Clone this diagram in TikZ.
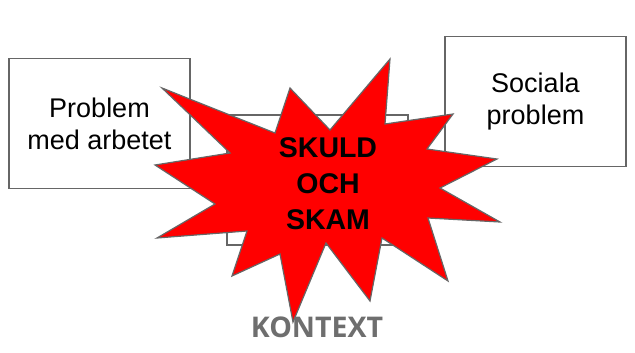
\documentclass[tikz,border=0pt]{standalone}
\usepackage{fontspec}
\setmainfont{Liberation Sans}
\newfontfamily\ctxfont{Open Sans}
\usepackage{tikz}
\usetikzlibrary{positioning}

\definecolor{edgegray}{HTML}{666666}
\definecolor{ctxgray}{HTML}{6E6E6E}

\begin{document}
\begin{tikzpicture}[x=1pt,y=-1pt,
  issue/.style={draw=edgegray,line width=1.2pt,fill=white,minimum width=181pt,
    minimum height=130pt,align=center,font=\fontsize{27}{32}\selectfont},
  burst/.style={draw=edgegray,line width=1.2pt,fill=red,line join=miter}]
 \useasboundingbox (0,0) rectangle (635,353);
 % the three problem boxes
 \node[issue] (work) at (99.5,123.5) {Problem\\med arbetet};
 \node[issue] (social) at (535.5,101.5) {Sociala\\problem};
 \node[issue] (hidden) at (317.5,180) {};
 % the burst on top
 \path[burst] (162,88) -- (275,133) -- (290,88) -- (330,130) -- (390,59)
  -- (385,124) -- (453,114) -- (427,149) -- (497,159) -- (440,188)
  -- (500,222) -- (428,218) -- (448,281) -- (382,238) -- (370,301)
  -- (326,243) -- (293,322) -- (280,254) -- (232,276) -- (247,231)
  -- (157,238) -- (215,204) -- (155,165) -- (230,153) -- cycle;
 \node[align=center,font=\fontsize{28.5}{36}\selectfont\bfseries] (guilt) at (328,184)
  {SKULD\\OCH\\SKAM};
 \node[text=ctxgray,font=\ctxfont\fontsize{28.5}{32}\selectfont\bfseries] (ctx) at (317,327) {KONTEXT};
\end{tikzpicture}
\end{document}
